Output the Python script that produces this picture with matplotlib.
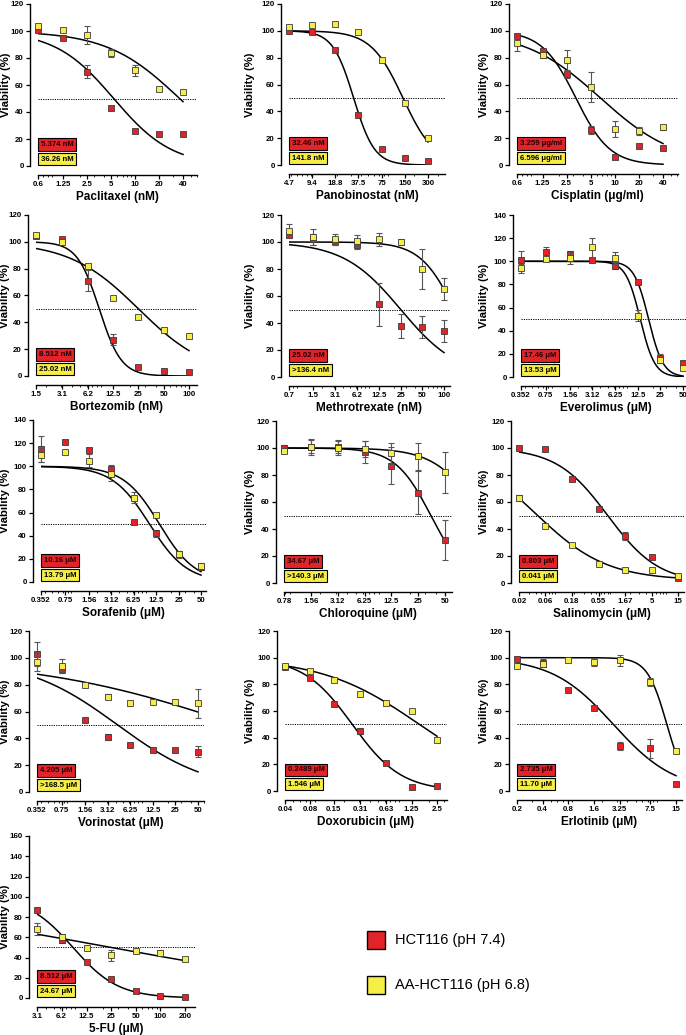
import numpy as np
import matplotlib
matplotlib.use('Agg')
import matplotlib.pyplot as plt
from matplotlib.ticker import FixedLocator, NullFormatter, LogLocator, FixedFormatter
from matplotlib.patches import Rectangle

plt.rcParams['font.family'] = ['Liberation Sans', 'DejaVu Sans']

# ---------------- data ----------------
paclitaxel_x = [0.6, 1.25, 2.5, 5, 10, 20, 40]
paclitaxel_labels = ['0.6', '1.25', '2.5', '5', '10', '20', '40']
paclitaxel_red = [101, 95, 70, 43, 26, 24, 24]
paclitaxel_red_err = [0, 0, 5, 0, 0, 0, 0]
paclitaxel_yel = [104, 101, 97, 84, 71, 57, 55]
paclitaxel_yel_err = [0, 0, 7, 3, 4, 0, 0]
paclitaxel_fit_red = [100, 0, 5.374, 1.18]
paclitaxel_fit_yel = [100, 0, 36.26, 0.95]
paclitaxel_ic50 = ['5.374 nM', '36.26 nM']

panobinostat_x = [4.7, 9.4, 18.8, 37.5, 75, 150, 300]
panobinostat_labels = ['4.7', '9.4', '18.8', '37.5', '75', '150', '300']
panobinostat_red = [100, 99, 86, 37, 12, 5, 3]
panobinostat_red_err = [0, 0, 0, 0, 0, 0, 0]
panobinostat_yel = [103, 104, 105, 99, 78, 46, 20]
panobinostat_yel_err = [0, 0, 0, 0, 0, 0, 0]
panobinostat_fit_red = [100, 0, 32.46, 3.2]
panobinostat_fit_yel = [100, 0, 141.8, 2.1]
panobinostat_ic50 = ['32.46 nM', '141.8 nM']

cisplatin_x = [0.6, 1.25, 2.5, 5, 10, 20, 40]
cisplatin_labels = ['0.6', '1.25', '2.5', '5', '10', '20', '40']
cisplatin_red = [96, 85, 68, 26, 6, 14, 13]
cisplatin_red_err = [0, 0, 3, 3, 0, 0, 0]
cisplatin_yel = [91, 82, 78, 58, 27, 25, 28]
cisplatin_yel_err = [6, 2, 8, 11, 6, 3, 2]
cisplatin_fit_red = [100, 0, 3.259, 2.05]
cisplatin_fit_yel = [100, 0, 6.596, 0.92]
cisplatin_ic50 = ['3.259 μg/ml', '6.596 μg/ml']

bortezomib_x = [1.5, 3.1, 6.2, 12.5, 25, 50, 100]
bortezomib_labels = ['1.5', '3.1', '6.2', '12.5', '25', '50', '100']
bortezomib_red = [104, 102, 71, 27, 7, 4, 3]
bortezomib_red_err = [0, 0, 8, 4, 0, 0, 0]
bortezomib_yel = [105, 100, 82, 58, 44, 34, 30]
bortezomib_yel_err = [0, 0, 0, 0, 0, 0, 0]
bortezomib_fit_red = [100, 0, 8.512, 3.3]
bortezomib_fit_yel = [100, 0, 25.02, 1.05]
bortezomib_ic50 = ['8.512 nM', '25.02 nM']

methotrexate_x = [0.7, 1.5, 3.1, 6.2, 12.5, 25, 50, 100]
methotrexate_labels = ['0.7', '1.5', '3.1', '6.2', '12.5', '25', '50', '100']
methotrexate_red = [105, 102, 101, 98, 54, 38, 37, 34]
methotrexate_red_err = [0, 4, 3, 3, 16, 9, 8, 8]
methotrexate_yel = [108, 104, 102, 101, 102, 100, 80, 65]
methotrexate_yel_err = [5, 6, 4, 4, 5, 2, 15, 8]
methotrexate_fit_red = [100, 0, 25.02, 1.09]
methotrexate_fit_yel = [100, 0, 141.0, 1.8]
methotrexate_ic50 = ['25.02 nM', '>136.4 nM']

everolimus_x = [0.352, 0.75, 1.56, 3.12, 6.25, 12.5, 25, 50]
everolimus_labels = ['0.352', '0.75', '1.56', '3.12', '6.25', '12.5', '25', '50']
everolimus_red = [101, 108, 106, 101, 96, 82, 16, 12]
everolimus_red_err = [8, 4, 3, 0, 3, 0, 4, 2]
everolimus_yel = [94, 102, 103, 112, 103, 53, 15, 8]
everolimus_yel_err = [4, 2, 5, 8, 5, 5, 0, 0]
everolimus_fit_red = [100, 0, 17.46, 4.5]
everolimus_fit_yel = [100, 0, 13.53, 4.5]
everolimus_ic50 = ['17.46 μM', '13.53 μM']

sorafenib_x = [0.352, 0.75, 1.56, 3.12, 6.25, 12.5, 25, 50]
sorafenib_labels = ['0.352', '0.75', '1.56', '3.12', '6.25', '12.5', '25', '50']
sorafenib_red = [115, 121, 114, 98, 52, 42, 24, 13]
sorafenib_red_err = [11, 2, 2, 3, 0, 3, 3, 3]
sorafenib_yel = [110, 112, 105, 93, 73, 58, 24, 14]
sorafenib_yel_err = [6, 0, 6, 6, 5, 0, 0, 0]
sorafenib_fit_red = [100, 0, 10.16, 1.73]
sorafenib_fit_yel = [100, 0, 13.79, 1.8]
sorafenib_ic50 = ['10.16 μM', '13.79 μM']

chloroquine_x = [0.78, 1.56, 3.12, 6.25, 12.5, 25, 50]
chloroquine_labels = ['0.78', '1.56', '3.12', '6.25', '12.5', '25', '50']
chloroquine_red = [100, 101, 101, 97, 87, 67, 32]
chloroquine_red_err = [2, 5, 5, 8, 14, 16, 15]
chloroquine_yel = [98, 101, 100, 99, 96, 94, 82]
chloroquine_yel_err = [2, 6, 5, 6, 8, 10, 15]
chloroquine_fit_red = [100, 0, 34.67, 2.18]
chloroquine_fit_yel = [100, 0, 128.0, 1.7]
chloroquine_ic50 = ['34.67 μM', '>140.3 μM']

salinomycin_x = [0.02, 0.06, 0.18, 0.55, 1.67, 5, 15]
salinomycin_labels = ['0.02', '0.06', '0.18', '0.55', '1.67', '5', '15']
salinomycin_red = [100, 99, 77, 55, 35, 19, 4]
salinomycin_red_err = [0, 0, 0, 0, 3, 0, 0]
salinomycin_yel = [63, 42, 28, 14, 10, 10, 5]
salinomycin_yel_err = [2, 0, 0, 0, 0, 0, 0]
salinomycin_fit_red = [100, 0, 0.803, 0.94]
salinomycin_fit_yel = [100, 2, 0.041, 0.68]
salinomycin_ic50 = ['0.803 μM', '0.041 μM']

vorinostat_x = [0.352, 0.75, 1.56, 3.12, 6.25, 12.5, 25, 50]
vorinostat_labels = ['0.352', '0.75', '1.56', '3.12', '6.25', '12.5', '25', '50']
vorinostat_red = [103, 92, 54, 41, 35, 31, 31, 30]
vorinostat_red_err = [9, 3, 0, 2, 0, 0, 0, 4]
vorinostat_yel = [97, 94, 80, 71, 66, 67, 67, 66]
vorinostat_yel_err = [7, 5, 0, 2, 0, 0, 0, 11]
vorinostat_fit_red = [100, 0, 4.205, 0.70]
vorinostat_fit_yel = [100, 0, 168.5, 0.32]
vorinostat_ic50 = ['4.205 μM', '>168.5 μM']

doxorubicin_x = [0.04, 0.08, 0.15, 0.31, 0.63, 1.25, 2.5]
doxorubicin_labels = ['0.04', '0.08', '0.15', '0.31', '0.63', '1.25', '2.5']
doxorubicin_red = [93, 85, 65, 45, 21, 3, 4]
doxorubicin_red_err = [0, 0, 0, 2, 0, 0, 0]
doxorubicin_yel = [94, 90, 83, 73, 66, 60, 38]
doxorubicin_yel_err = [0, 0, 0, 0, 0, 0, 0]
doxorubicin_fit_red = [100, 0, 0.2489, 1.5]
doxorubicin_fit_yel = [100, 0, 1.546, 0.75]
doxorubicin_ic50 = ['0.2489 μM', '1.546 μM']

erlotinib_x = [0.2, 0.4, 0.8, 1.6, 3.25, 7.5, 15]
erlotinib_labels = ['0.2', '0.4', '0.8', '1.6', '3.25', '7.5', '15']
erlotinib_red = [99, 96, 76, 62, 34, 32, 5]
erlotinib_red_err = [0, 3, 0, 0, 3, 7, 0]
erlotinib_yel = [94, 95, 98, 97, 98, 82, 30]
erlotinib_yel_err = [0, 0, 0, 3, 4, 3, 0]
erlotinib_fit_red = [100, 0, 2.735, 1.2]
erlotinib_fit_yel = [100, 0, 11.70, 3.8]
erlotinib_ic50 = ['2.735 μM', '11.70 μM']

fu_x = [3.1, 6.2, 12.5, 25, 50, 100, 200]
fu_labels = ['3.1', '6.2', '12.5', '25', '50', '100', '200']
fu_red = [87, 57, 36, 19, 7, 2, 1]
fu_red_err = [0, 3, 0, 0, 0, 0, 0]
fu_yel = [68, 60, 49, 42, 46, 44, 39]
fu_yel_err = [6, 3, 0, 5, 0, 3, 0]
fu_fit_red = [100, 0, 8.512, 1.57]
fu_fit_yel = [100, 0, 24.67, 0.257]
fu_ic50 = ['8.512 μM', '24.67 μM']

xlabels = ['Paclitaxel (nM)', 'Panobinostat (nM)', 'Cisplatin (μg/ml)',
           'Bortezomib (nM)', 'Methrotrexate (nM)', 'Everolimus (μM)',
           'Sorafenib (μM)', 'Chloroquine (μM)', 'Salinomycin (μM)',
           'Vorinostat (μM)', 'Doxorubicin (μM)', 'Erlotinib (μM)',
           '5-FU (μM)']
ymaxes = [120, 120, 120, 120, 120, 140, 140, 120, 120, 120, 120, 120, 160]
legend_labels = ['HCT116 (pH 7.4)', 'AA-HCT116 (pH 6.8)']

panels = [
    (paclitaxel_x, paclitaxel_labels, paclitaxel_red, paclitaxel_red_err, paclitaxel_yel, paclitaxel_yel_err, paclitaxel_fit_red, paclitaxel_fit_yel, paclitaxel_ic50),
    (panobinostat_x, panobinostat_labels, panobinostat_red, panobinostat_red_err, panobinostat_yel, panobinostat_yel_err, panobinostat_fit_red, panobinostat_fit_yel, panobinostat_ic50),
    (cisplatin_x, cisplatin_labels, cisplatin_red, cisplatin_red_err, cisplatin_yel, cisplatin_yel_err, cisplatin_fit_red, cisplatin_fit_yel, cisplatin_ic50),
    (bortezomib_x, bortezomib_labels, bortezomib_red, bortezomib_red_err, bortezomib_yel, bortezomib_yel_err, bortezomib_fit_red, bortezomib_fit_yel, bortezomib_ic50),
    (methotrexate_x, methotrexate_labels, methotrexate_red, methotrexate_red_err, methotrexate_yel, methotrexate_yel_err, methotrexate_fit_red, methotrexate_fit_yel, methotrexate_ic50),
    (everolimus_x, everolimus_labels, everolimus_red, everolimus_red_err, everolimus_yel, everolimus_yel_err, everolimus_fit_red, everolimus_fit_yel, everolimus_ic50),
    (sorafenib_x, sorafenib_labels, sorafenib_red, sorafenib_red_err, sorafenib_yel, sorafenib_yel_err, sorafenib_fit_red, sorafenib_fit_yel, sorafenib_ic50),
    (chloroquine_x, chloroquine_labels, chloroquine_red, chloroquine_red_err, chloroquine_yel, chloroquine_yel_err, chloroquine_fit_red, chloroquine_fit_yel, chloroquine_ic50),
    (salinomycin_x, salinomycin_labels, salinomycin_red, salinomycin_red_err, salinomycin_yel, salinomycin_yel_err, salinomycin_fit_red, salinomycin_fit_yel, salinomycin_ic50),
    (vorinostat_x, vorinostat_labels, vorinostat_red, vorinostat_red_err, vorinostat_yel, vorinostat_yel_err, vorinostat_fit_red, vorinostat_fit_yel, vorinostat_ic50),
    (doxorubicin_x, doxorubicin_labels, doxorubicin_red, doxorubicin_red_err, doxorubicin_yel, doxorubicin_yel_err, doxorubicin_fit_red, doxorubicin_fit_yel, doxorubicin_ic50),
    (erlotinib_x, erlotinib_labels, erlotinib_red, erlotinib_red_err, erlotinib_yel, erlotinib_yel_err, erlotinib_fit_red, erlotinib_fit_yel, erlotinib_ic50),
    (fu_x, fu_labels, fu_red, fu_red_err, fu_yel, fu_yel_err, fu_fit_red, fu_fit_yel, fu_ic50),
]

# ---------------- layout (pixels) ----------------
W, H, DPI = 686, 1035, 100
# (first-point x, last-point x, axis end x, top y, zero y)
layout = [
    (38, 183, 197, 4, 166), (289, 428, 445, 4, 165), (517, 663, 678, 4, 165),
    (36, 189, 197, 215, 376), (289, 444, 450, 215, 377), (521, 683, 690, 215, 377),
    (41, 201, 206, 420, 582), (284, 445, 452, 421, 583), (519, 678, 684, 421, 583),
    (37, 198, 204, 631, 792), (285, 437, 447, 631, 791), (517, 676, 682, 631, 791),
    (37, 185, 195, 836, 998),
]
ylabel_right = [10.5, 255, 489]   # x pixel of the y-label's right edge, per column

RED = '#e3232a'
YEL = '#f6ee45'
EDGE = '#3a3a3a'

fig = plt.figure(figsize=(W / DPI, H / DPI), dpi=DPI)


def logistic(x, p):
    top, bottom, ic, h = p
    return bottom + (top - bottom) / (1.0 + (x / ic) ** h)


for i, (pdat, lay) in enumerate(zip(panels, layout)):
    x, labs, r, re, yv, ye, fr, fy, ic = pdat
    x0p, xlp, xep, tp, bp = lay
    ymax = ymaxes[i]
    axw = xep - x0p
    axh = bp - tp
    ax = fig.add_axes([x0p / W, 1 - bp / H, axw / W, axh / H])
    ax.set_xscale('log')
    dpp = np.log10(x[-1] / x[0]) / (xlp - x0p)
    xhi = x[0] * 10 ** ((xep - x0p) * dpp)
    ax.set_xlim(x[0], xhi)
    ax.set_ylim(0, ymax)

    xs = np.logspace(np.log10(x[0]), np.log10(x[-1]), 300)
    ax.axhline(50, color='black', lw=0.7, ls=(0, (1.2, 1.2)), zorder=1)
    ax.plot(xs, logistic(xs, fr), color='black', lw=1.1, zorder=3)
    ax.plot(xs, logistic(xs, fy), color='black', lw=1.1, zorder=3)

    for vals, errs, col, z in ((r, re, RED, 5), (yv, ye, YEL, 7)):
        xa = np.array(x, float)
        va = np.array(vals, float)
        ea = np.array(errs, float)
        m = ea > 0
        if m.any():
            ax.errorbar(xa[m], va[m], yerr=ea[m], fmt='none', ecolor='#555555',
                        elinewidth=0.8, capsize=2.2, capthick=0.8, zorder=z - 1,
                        clip_on=False)
        ax.plot(xa, va, ls='none', marker='s', ms=4.6, mfc=col, mec=EDGE,
                mew=0.6, zorder=z, clip_on=False)

    # axes styling
    for s in ('top', 'right'):
        ax.spines[s].set_visible(False)
    ax.spines['left'].set_position(('outward', 6))
    ax.spines['bottom'].set_position(('outward', 6.5))
    ax.spines['left'].set_linewidth(1.0)
    ax.spines['bottom'].set_linewidth(1.0)
    ax.set_yticks(np.arange(0, ymax + 1, 20))
    ax.xaxis.set_major_locator(FixedLocator(x))
    ax.xaxis.set_major_formatter(FixedFormatter(labs))
    ax.xaxis.set_minor_locator(LogLocator(base=10, subs=np.arange(2, 10), numticks=20))
    ax.xaxis.set_minor_formatter(NullFormatter())
    ax.tick_params(axis='both', which='major', labelsize=5.7, length=3, width=0.9, pad=1.2)
    ax.tick_params(axis='x', which='minor', length=1.6, width=0.6)
    for lab in ax.get_xticklabels() + ax.get_yticklabels():
        lab.set_fontweight('bold')
    ax.set_xlabel(xlabels[i], fontsize=8.5, fontweight='bold', labelpad=2)
    ax.set_ylabel('Viability (%)', fontsize=8.2, fontweight='bold')
    ax.yaxis.set_label_coords((ylabel_right[i % 3] - x0p) / axw, 0.5)
    ax.patch.set_alpha(0)

    # IC50 boxes
    for k, (txt, col) in enumerate(zip(ic, (RED, YEL))):
        yb = (0.095 if k == 0 else 0.005)
        ax.text(3.0 / axw, yb + 2.5 / axh, txt, transform=ax.transAxes, ha='left', va='bottom',
                fontsize=5.6, fontweight='bold', color='#1a0000' if k == 0 else 'black',
                bbox=dict(boxstyle='square,pad=0.35', fc=col, ec='black', lw=0.8),
                zorder=10)

# legend
for k, (lab, col) in enumerate(zip(legend_labels, (RED, YEL))):
    cy = 940 + 45 * k
    fig.patches.append(Rectangle((367 / W, 1 - (cy + 9) / H), 18 / W, 18 / H,
                                 transform=fig.transFigure, fc=col, ec='black', lw=1.0))
    fig.text(395 / W, 1 - cy / H, lab, fontsize=10.5, va='center', ha='left')

fig.savefig('out.png', dpi=DPI)
